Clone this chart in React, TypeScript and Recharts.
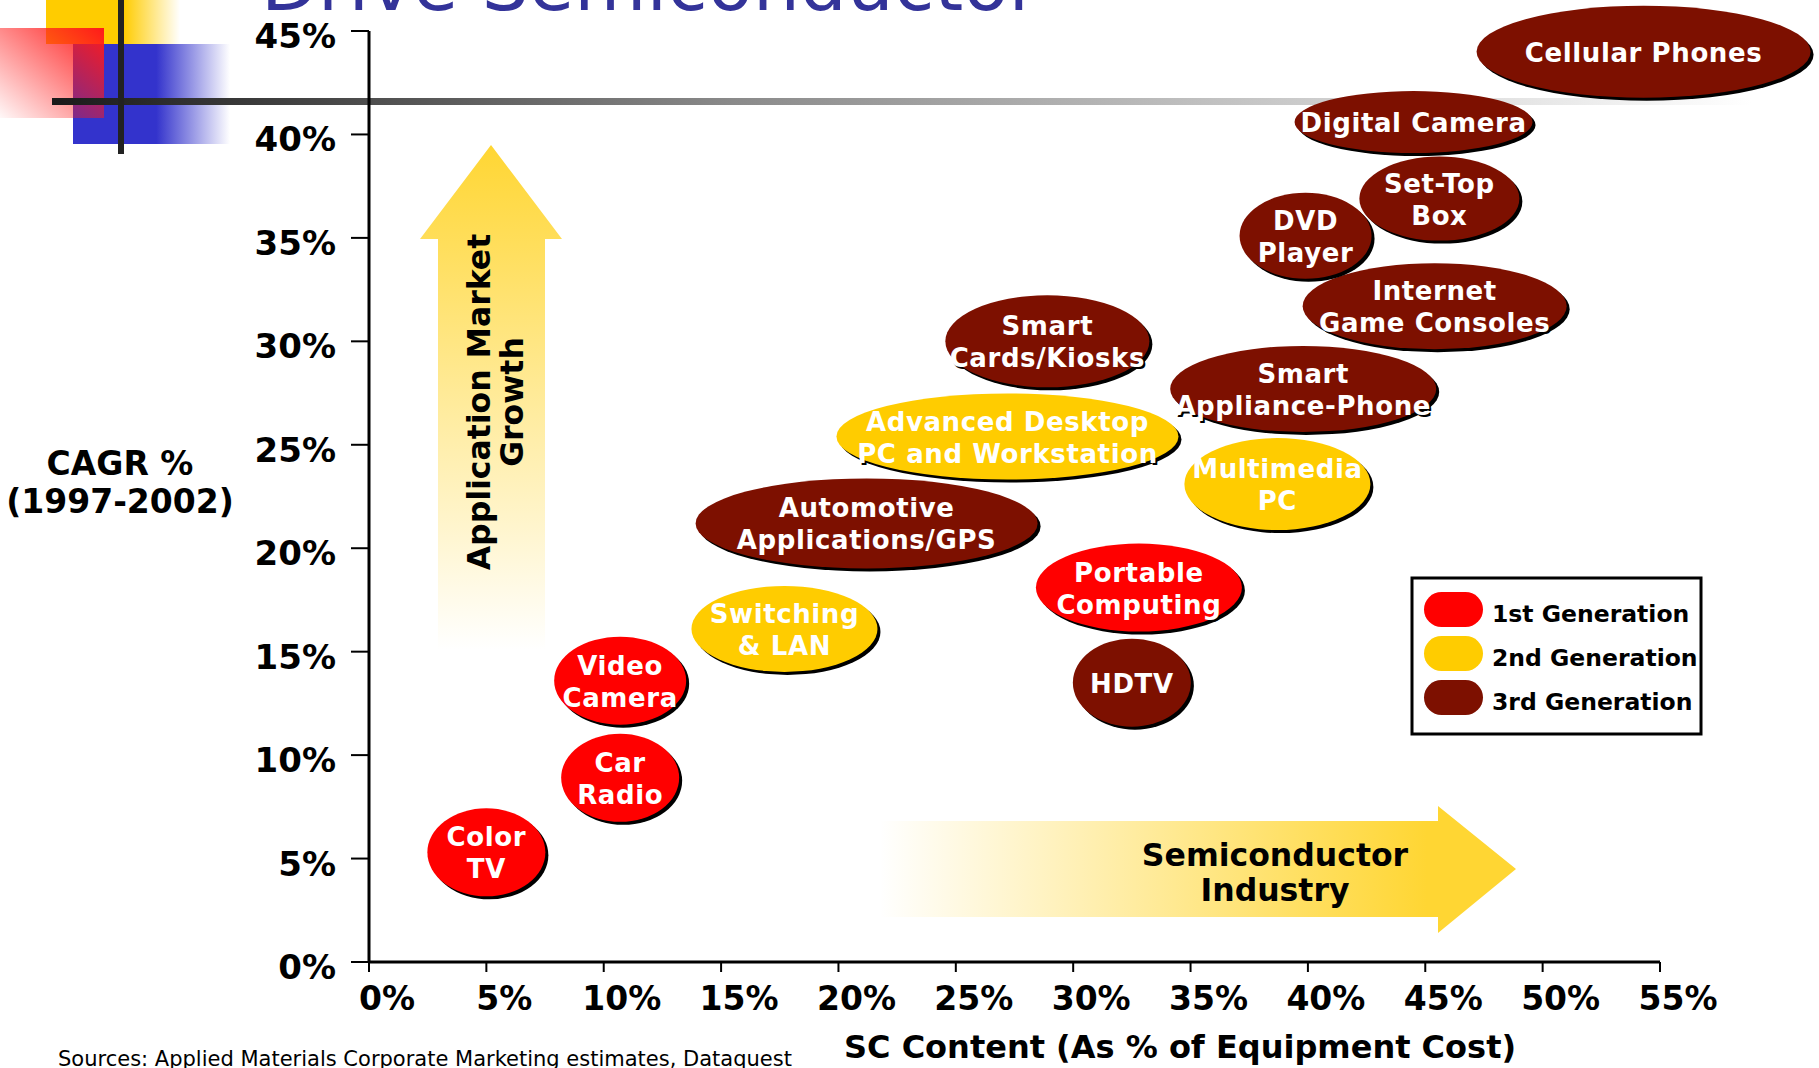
import { ScatterChart, Scatter, XAxis, YAxis } from "recharts";

// Products, drawn in this order (later ones sit on top)
const products = [
  "Cellular Phones",
  "Digital Camera",
  "Set-Top\nBox",
  "Internet\nGame Consoles",
  "DVD\nPlayer",
  "Smart\nCards/Kiosks",
  "Smart\nAppliance-Phone",
  "Automotive\nApplications/GPS",
  "HDTV",
  "Advanced Desktop\nPC and Workstation",
  "Multimedia\nPC",
  "Switching\n& LAN",
  "Portable\nComputing",
  "Video\nCamera",
  "Car\nRadio",
  "Color\nTV",
];
// SC content, % of equipment cost
const scContent = [54.3, 44.5, 45.6, 45.4, 39.9, 28.9, 39.8, 21.2, 32.5, 27.2, 38.7, 17.7, 32.8, 10.7, 10.7, 5.0];
// CAGR % 1997-2002
const cagr = [44.0, 40.6, 36.9, 31.7, 35.1, 30.0, 27.7, 21.2, 13.5, 25.4, 23.1, 16.1, 18.1, 13.6, 8.9, 5.3];
// 1 = 1st, 2 = 2nd, 3 = 3rd generation
const generation = [3, 3, 3, 3, 3, 3, 3, 3, 3, 2, 2, 2, 1, 1, 1, 1];

const generations = ["1st Generation", "2nd Generation", "3rd Generation"];
const xTicks = [0, 5, 10, 15, 20, 25, 30, 35, 40, 45, 50, 55];
const yTicks = [0, 5, 10, 15, 20, 25, 30, 35, 40, 45];

const genColors = ["#FF0000", "#FFCC00", "#7D1000"];
const FONT = "'DejaVu Sans', Verdana, sans-serif";

// ellipse radii (px) for each bubble
const bubbleSize: Record<string, [number, number]> = {
  "Cellular Phones": [167, 46],
  "Digital Camera": [119, 31],
  "Set-Top\nBox": [80, 42],
  "DVD\nPlayer": [66, 43],
  "Internet\nGame Consoles": [132, 43],
  "Smart\nCards/Kiosks": [102, 46],
  "Smart\nAppliance-Phone": [133, 43],
  "Advanced Desktop\nPC and Workstation": [171, 43],
  "Multimedia\nPC": [93, 46],
  "Automotive\nApplications/GPS": [171, 45],
  "Portable\nComputing": [103, 44],
  "Switching\n& LAN": [93, 43],
  HDTV: [59, 44],
  "Video\nCamera": [66, 44],
  "Car\nRadio": [59, 44],
  "Color\nTV": [59, 44],
};

const points = products.map((name, i) => ({ name, x: scContent[i], y: cagr[i], gen: generation[i] }));

const Bubble = (props: any) => {
  const { cx, cy, payload } = props;
  const [rx, ry] = bubbleSize[payload.name] || [60, 44];
  const fill = genColors[payload.gen - 1];
  const lines: string[] = payload.name.split("\n");
  const lh = 32;
  const y0 = cy - ((lines.length - 1) * lh) / 2 + 10;
  const label = (d: number, color: string) => (
    <text textAnchor="middle" fill={color} fontFamily={FONT} fontWeight="bold" fontSize={26} letterSpacing={0.6}>
      {lines.map((l, j) => (
        <tspan key={j} x={cx + d} y={y0 + j * lh + d}>
          {l}
        </tspan>
      ))}
    </text>
  );
  return (
    <g>
      <ellipse cx={cx + 3} cy={cy + 3} rx={rx} ry={ry} fill="#000" />
      {label(2, "#000")}
      <ellipse cx={cx} cy={cy} rx={rx} ry={ry} fill={fill} />
      {label(0, "#fff")}
    </g>
  );
};

const XTick = ({ x, y, payload }: any) => (
  <text x={x + 18} y={y + 36} textAnchor="middle" fontFamily={FONT} fontWeight="bold" fontSize={33} fill="#000">
    {payload.value}%
  </text>
);

const YTick = ({ x, y, payload }: any) => (
  <text x={x - 13} y={y + 17} textAnchor="end" fontFamily={FONT} fontWeight="bold" fontSize={34} fill="#000">
    {payload.value}%
  </text>
);

function Backdrop() {
  return (
    <svg width={1819} height={1068} style={{ position: "absolute", left: 0, top: 0 }}>
      <defs>
        <linearGradient id="yelSq" x1="0" y1="0" x2="1" y2="0">
          <stop offset="0.58" stopColor="#FFCC00" />
          <stop offset="1" stopColor="#FFCC00" stopOpacity="0" />
        </linearGradient>
        <linearGradient id="bluSq" x1="0" y1="0" x2="1" y2="0">
          <stop offset="0.53" stopColor="#3333CC" />
          <stop offset="1" stopColor="#3333CC" stopOpacity="0" />
        </linearGradient>
        <linearGradient id="redSq" x1="1" y1="0" x2="0" y2="1">
          <stop offset="0" stopColor="#FF1A1A" />
          <stop offset="1" stopColor="#FF1A1A" stopOpacity="0.03" />
        </linearGradient>
        <linearGradient id="rule" x1="0" y1="0" x2="1" y2="0">
          <stop offset="0" stopColor="#1a1a1a" />
          <stop offset="0.4" stopColor="#8a8a8a" />
          <stop offset="1" stopColor="#ffffff" />
        </linearGradient>
        <linearGradient id="upArrow" x1="0" y1="0" x2="0" y2="1">
          <stop offset="0" stopColor="#FFD633" />
          <stop offset="1" stopColor="#FFD633" stopOpacity="0" />
        </linearGradient>
        <linearGradient id="rightArrow" x1="0" y1="0" x2="1" y2="0">
          <stop offset="0" stopColor="#FFD633" stopOpacity="0" />
          <stop offset="0.86" stopColor="#FFD633" />
          <stop offset="1" stopColor="#FFD633" />
        </linearGradient>
      </defs>

      <text x={261} y={10} fontFamily={FONT} fontSize={74} fill="#333399">
        Drive Semiconductor
      </text>

      <rect x={46} y={0} width={134} height={44} fill="url(#yelSq)" />
      <rect x={73} y={44} width={157} height={100} fill="url(#bluSq)" />
      <rect x={0} y={28} width={104} height={90} fill="url(#redSq)" />
      <rect x={52} y={98} width={1700} height={7} fill="url(#rule)" />
      <rect x={118} y={0} width={6} height={154} fill="#222" />

      <polygon points="491,145 562,239 545,239 545,650 438,650 438,239 420,239" fill="url(#upArrow)" />
      <g fontFamily={FONT} fontWeight="bold" fontSize={31.5} fill="#000" textAnchor="middle">
        <text x={490} y={402} transform="rotate(-90 490 402)">Application Market</text>
        <text x={523} y={402} transform="rotate(-90 523 402)">Growth</text>
      </g>

      <polygon points="880,821 1438,821 1438,806 1516,869 1438,933 1438,917 880,917" fill="url(#rightArrow)" />
      <g fontFamily={FONT} fontWeight="bold" fontSize={31.5} fill="#000" textAnchor="middle">
        <text x={1275} y={866}>Semiconductor</text>
        <text x={1275} y={901}>Industry</text>
      </g>

      <g fontFamily={FONT} fontWeight="bold" fill="#000" textAnchor="middle">
        <text x={120} y={475} fontSize={33}>CAGR %</text>
        <text x={120} y={513} fontSize={33}>(1997-2002)</text>
        <text x={1180} y={1058} fontSize={32}>SC Content (As % of Equipment Cost)</text>
      </g>

      <text x={58} y={1066} fontFamily={FONT} fontSize={21} fill="#000">
        Sources: Applied Materials Corporate Marketing estimates, Dataquest
      </text>

      <rect x={1412} y={578} width={289} height={156} fill="#fff" stroke="#000" strokeWidth={3} />
      {generations.map((g, i) => (
        <g key={g}>
          <rect x={1424} y={592 + i * 44} width={59} height={35} rx={17.5} fill={genColors[i]} />
          <text x={1492} y={622 + i * 44} fontFamily={FONT} fontWeight="bold" fontSize={23.5} fill="#000">
            {g}
          </text>
        </g>
      ))}
    </svg>
  );
}

export default function App() {
  return (
    <div style={{ position: "absolute", left: 0, top: 0, width: 1819, height: 1068, background: "#fff" }}>
      <Backdrop />
      <div style={{ position: "absolute", left: 0, top: 0 }}>
        <ScatterChart width={1819} height={1068} margin={{ top: 31, right: 159, bottom: 66, left: 309 }}>
          <XAxis
            type="number"
            dataKey="x"
            domain={[0, 55]}
            ticks={xTicks}
            height={40}
            stroke="#000"
            axisLine={{ stroke: "#000", strokeWidth: 3 }}
            tickLine={{ stroke: "#000", strokeWidth: 2 }}
            tickSize={10}
            tick={<XTick />}
            interval={0}
          />
          <YAxis
            type="number"
            dataKey="y"
            domain={[0, 45]}
            ticks={yTicks}
            width={60}
            axisLine={{ stroke: "#000", strokeWidth: 3 }}
            tickLine={{ stroke: "#000", strokeWidth: 2 }}
            tickSize={18}
            tick={<YTick />}
            interval={0}
          />
          {[3, 2, 1].map((g) => (
            <Scatter
              key={g}
              name={generations[g - 1]}
              data={points.filter((p) => p.gen === g)}
              fill={genColors[g - 1]}
              shape={<Bubble />}
              isAnimationActive={false}
            />
          ))}
        </ScatterChart>
      </div>
    </div>
  );
}
